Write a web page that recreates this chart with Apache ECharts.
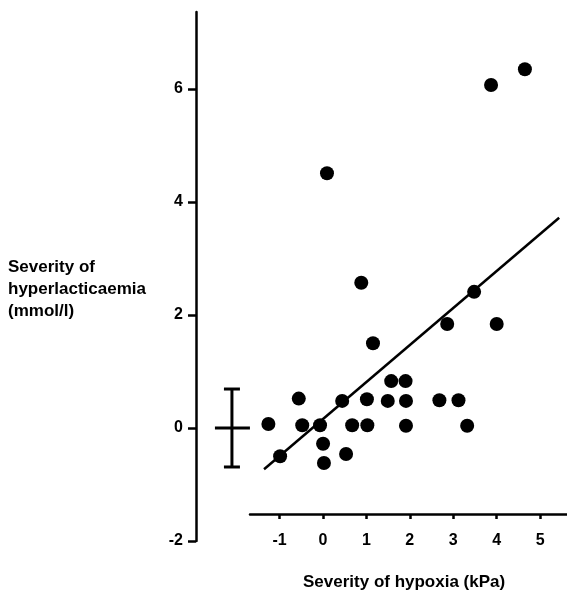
<!DOCTYPE html>
<html>
<head>
<meta charset="utf-8">
<script src="https://cdn.jsdelivr.net/npm/echarts@6/dist/echarts.min.js"></script>
<style>
html,body{margin:0;padding:0;background:#fff;}
#chart{width:567px;height:594px;}
</style>
</head>
<body>
<div id="chart"></div>
<script>
// Severity of hypoxia (kPa)
var hypoxia = [-1.26, -0.99, -0.56, -0.48, -0.07, 0.00, 0.02, 0.09, 0.44, 0.53, 0.67, 0.88, 1.01, 1.02,
               1.15, 1.49, 1.57, 1.90, 1.91, 1.91, 2.68, 2.86, 3.12, 3.32, 3.48, 3.87, 4.00, 4.65];
// Severity of hyperlacticaemia (mmol/l)
var lactate = [0.07, -0.50, 0.52, 0.05, 0.05, -0.28, -0.62, 4.51, 0.48, -0.46, 0.05, 2.57, 0.51, 0.05,
               1.50, 0.48, 0.83, 0.83, 0.48, 0.04, 0.49, 1.84, 0.49, 0.04, 2.41, 6.07, 1.84, 6.35];
// regression line end points
var fitX = [-1.36, 5.44];
var fitY = [-0.73, 3.72];
// error bar: [x, mean, low, high]
var errorBar = [[-2.10, 0, -0.69, 0.69]];
var xTicks = [-1, 0, 1, 2, 3, 4, 5];
var yTicks = [-2, 0, 2, 4, 6];

var points = hypoxia.map(function (x, i) { return [x, lactate[i]]; });
var fitLine = fitX.map(function (x, i) { return [x, fitY[i]]; });

var chart = echarts.init(document.getElementById('chart'), null, {renderer: 'canvas'});
var fontFam = '"Liberation Sans", Arial, Helvetica, sans-serif';

chart.setOption({
  animation: false,
  backgroundColor: '#ffffff',
  title: [
    {
      text: 'Severity of\nhyperlacticaemia\n(mmol/l)',
      left: 8, top: 256, padding: 0,
      textStyle: {fontFamily: fontFam, fontSize: 17, fontWeight: 'bold', color: '#000', lineHeight: 22}
    },
    {
      text: 'Severity of hypoxia (kPa)',
      left: 303, top: 574, padding: 0,
      textStyle: {fontFamily: fontFam, fontSize: 17, fontWeight: 'bold', color: '#000'}
    }
  ],
  grid: [
    {left: 196, right: 0, top: 12, bottom: 53},
    {left: 250, right: 0, top: 480, bottom: 80}
  ],
  xAxis: [
    {
      gridIndex: 0, type: 'value', min: -2.928, max: 5.62,
      axisLine: {show: false}, axisTick: {show: false}, axisLabel: {show: false}, splitLine: {show: false}
    },
    {
      gridIndex: 1, type: 'value', min: -1.68, max: 5.62, position: 'bottom',
      axisLine: {show: true, onZero: false, lineStyle: {color: '#000', width: 2.5}},
      axisTick: {show: true, length: 5, inside: false, customValues: xTicks, lineStyle: {color: '#000', width: 2.5}},
      axisLabel: {show: true, margin: 19, customValues: xTicks, color: '#000',
        fontFamily: fontFam, fontSize: 16, fontWeight: 'bold'},
      splitLine: {show: false}
    }
  ],
  yAxis: [
    {
      gridIndex: 0, type: 'value', min: -2, max: 7.363,
      axisLine: {show: true, onZero: false, lineStyle: {color: '#000', width: 2.5}},
      axisTick: {show: true, length: 8, inside: false, customValues: yTicks, lineStyle: {color: '#000', width: 2.5}},
      axisLabel: {show: true, margin: 13, customValues: yTicks, color: '#000',
        fontFamily: fontFam, fontSize: 16, fontWeight: 'bold'},
      splitLine: {show: false}
    },
    {
      gridIndex: 1, type: 'value', min: 0, max: 1,
      axisLine: {show: false}, axisTick: {show: false}, axisLabel: {show: false}, splitLine: {show: false}
    }
  ],
  series: [
    {
      type: 'line', xAxisIndex: 0, yAxisIndex: 0, data: fitLine,
      symbol: 'none', lineStyle: {color: '#000', width: 2.5}, silent: true, z: 2
    },
    {
      type: 'scatter', xAxisIndex: 0, yAxisIndex: 0, data: points,
      symbol: 'circle', symbolSize: 14, itemStyle: {color: '#000', opacity: 1}, z: 3
    },
    {
      type: 'custom', xAxisIndex: 0, yAxisIndex: 0, data: errorBar, z: 3,
      renderItem: function (params, api) {
        var x = api.value(0);
        var mid = api.coord([x, api.value(1)]);
        var lo = api.coord([x, api.value(2)]);
        var hi = api.coord([x, api.value(3)]);
        var st = {stroke: '#000', lineWidth: 3};
        return {
          type: 'group',
          children: [
            {type: 'line', shape: {x1: hi[0], y1: hi[1], x2: lo[0], y2: lo[1]}, style: st},
            {type: 'line', shape: {x1: hi[0] - 8, y1: hi[1], x2: hi[0] + 8, y2: hi[1]}, style: st},
            {type: 'line', shape: {x1: lo[0] - 8, y1: lo[1], x2: lo[0] + 8, y2: lo[1]}, style: st},
            {type: 'line', shape: {x1: mid[0] - 17, y1: mid[1], x2: mid[0] + 18, y2: mid[1]}, style: st}
          ]
        };
      }
    }
  ]
});
</script>
</body>
</html>
